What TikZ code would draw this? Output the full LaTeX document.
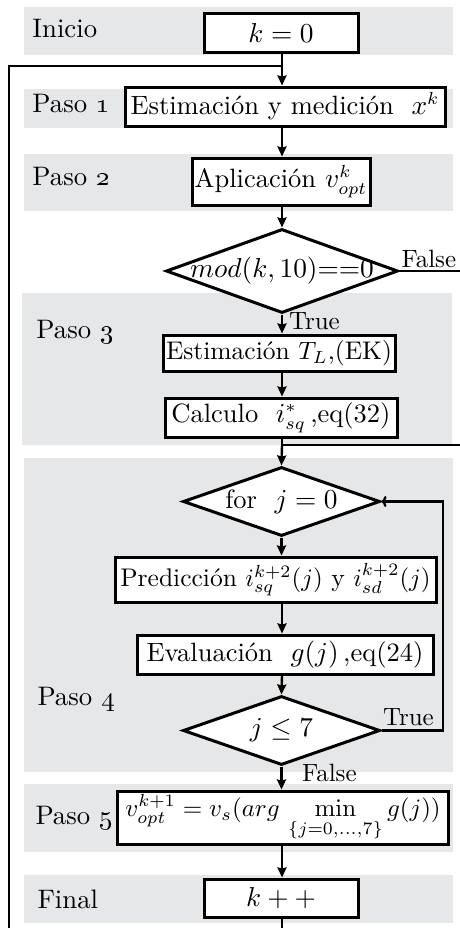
\documentclass[tikz,border=0pt]{standalone}
\usetikzlibrary{shapes.geometric,arrows.meta,calc}
\definecolor{bandgray}{RGB}{230,231,232}
\newcommand{\U}{0.4pt}
\newcommand{\fsz}{\fontsize{10.6}{12.7}\selectfont}
\newcommand{\fss}{\fontsize{10.2}{12.2}\selectfont}
\newcommand{\fsb}{\fontsize{10.7}{12.8}\selectfont}
\newcommand{\fst}{\fontsize{10}{12}\selectfont}
\tikzset{
 band/.style={fill=bandgray, draw=none},
 box/.style={draw, line width=1.2pt, fill=white, inner sep=0pt, font=\fsz},
 dia/.style={draw, diamond, line width=1.2pt, fill=white, inner sep=0pt, font=\fsz},
 lbl/.style={anchor=base west, inner sep=0pt, font=\fsb},
 conn/.style={line width=0.95pt},
 arr/.style={line width=0.95pt, -{Stealth[length=4pt,width=3.6pt,inset=0.4pt]}},
 openarr/.style={line width=0.95pt, -{To[length=2pt,width=4.4pt]}},
 tag/.style={inner sep=0pt, font=\fsz},
 brl/.style={inner sep=0pt, font=\fst, anchor=base west}
}
\begin{document}
\begin{tikzpicture}[x=0.4pt,y=-0.4pt]
\useasboundingbox (0,0) rectangle (460,928);
\clip (0,0) rectangle (460,928);
% bands
\fill[band] (24,7) rectangle (453,55);
\fill[band] (24,89) rectangle (453,128);
\fill[band] (24,154) rectangle (453,211);
\fill[band] (22,293) rectangle (452,445);
\fill[band] (24,458) rectangle (453,772);
\fill[band] (24,784) rectangle (453,852);
\fill[band] (24,875) rectangle (453,923);
% step labels
\node[lbl] (l0) at (32,37) {Inicio};
\node[lbl] (l1) at (32,112) {Paso \oldstylenums{1}};
\node[lbl] (l2) at (32,185) {Paso \oldstylenums{2}};
\node[lbl] (l3) at (36,338) {Paso \oldstylenums{3}};
\node[lbl] (l4) at (37,705) {Paso \oldstylenums{4}};
\node[lbl] (l5) at (35,824) {Paso \oldstylenums{5}};
\node[lbl] (l6) at (37,908) {Final};
% helper coordinates
\coordinate (mx) at (282,0);
\coordinate (lx) at (9,0);
\coordinate (rx) at (468,0);
\coordinate (loopx) at (443,0);
\coordinate (jtop) at (282,66);
\coordinate (jmid) at (282,445);
\coordinate (bot) at (0,945);
% nodes
\node[box, minimum width=154*\U, minimum height=39*\U] (k0) at (281,32.5) {$k=0$};
\node[box, minimum width=320*\U, minimum height=39*\U] (p1) at (285,106.5) {Estimación y medición~~$x^k$};
\node[box, minimum width=178*\U, minimum height=47*\U] (p2) at (281,181.5) {Aplicación $v_{opt}^k$};
\node[dia, minimum width=232*\U, minimum height=84*\U, label={[tag]center:$mod(k,10){=}{=}0$}] (mod) at (282,271) {};
\node[box, font=\fss, minimum width=232*\U, minimum height=36*\U] (est) at (279,353) {Estimación $T_L$,(EK)};
\node[box, minimum width=232*\U, minimum height=39*\U] (calc) at (281,417.5) {Calculo~~$i_{sq}^*$\,,eq(32)};
\node[dia, minimum width=197*\U, minimum height=69*\U, label={[tag]center:for~~$j=0$}] (for) at (281.5,501.5) {};
\node[box, font=\fss, minimum width=321*\U, minimum height=45*\U] (pred) at (275.5,579.5) {Predicción $i_{sq}^{k+2}(j)$ y $i_{sd}^{k+2}(j)$};
\node[box, minimum width=296*\U, minimum height=39*\U] (eval) at (285,654.5) {Evaluación~~$g(j)$\,,eq(24)};
\node[dia, minimum width=197*\U, minimum height=69*\U, label={[tag]center:$j\leq 7$}] (jle) at (281.5,730.5) {};
\node[box, font=\fss, minimum width=331*\U, minimum height=53*\U] (p5) at (283,817.5) {$v_{opt}^{k+1}=v_s(arg\,\min\limits_{\{j=0,\ldots,7\}}g(j))$};
\node[box, minimum width=154*\U, minimum height=38*\U] (fin) at (281,898) {$k++$};
% connectors
\draw[arr] (k0.south -| mx) -- (p1.north -| mx);
\draw[arr] (p1.south -| mx) -- (p2.north -| mx);
\draw[arr] (p2.south -| mx) -- (mod.north);
\draw[arr] (mod.south) -- (est.north -| mod.south);
\draw[arr] (est.south -| mx) -- (calc.north -| mx);
\draw[conn] (calc.south -| mx) -- (jmid);
\draw[conn] (mod.east) -- (rx |- mod.east) -- (rx |- jmid) -- (jmid);
\draw[arr] (jmid) -- (for.north);
\draw[arr] (for.south) -- (pred.north -| for.south);
\draw[arr] (pred.south -| mx) -- (eval.north -| mx);
\draw[arr] (eval.south -| mx) -- (jle.north);
\draw[openarr] (jle.east) -- (loopx |- jle.east) -- (loopx |- for.east) -- (for.east);
\draw[arr] (jle.south) -- (p5.north -| jle.south);
\draw[arr] (p5.south -| mx) -- (fin.north -| mx);
\draw[conn] (fin.south -| mx) -- (bot -| mx) -| (lx |- jtop) -- (jtop);
% branch labels
\node[brl, xshift=0.6pt, yshift=1.4pt] (tf1) at (mod.east) {False};
\node[brl, xshift=2.6pt, yshift=-6pt] (tt1) at (mod.south) {True};
\node[brl, xshift=0.4pt, yshift=2.2pt] (tt2) at (jle.east) {True};
\node[brl, xshift=8pt, yshift=-6pt] (tf2) at (jle.south) {False};
\end{tikzpicture}
\end{document}
